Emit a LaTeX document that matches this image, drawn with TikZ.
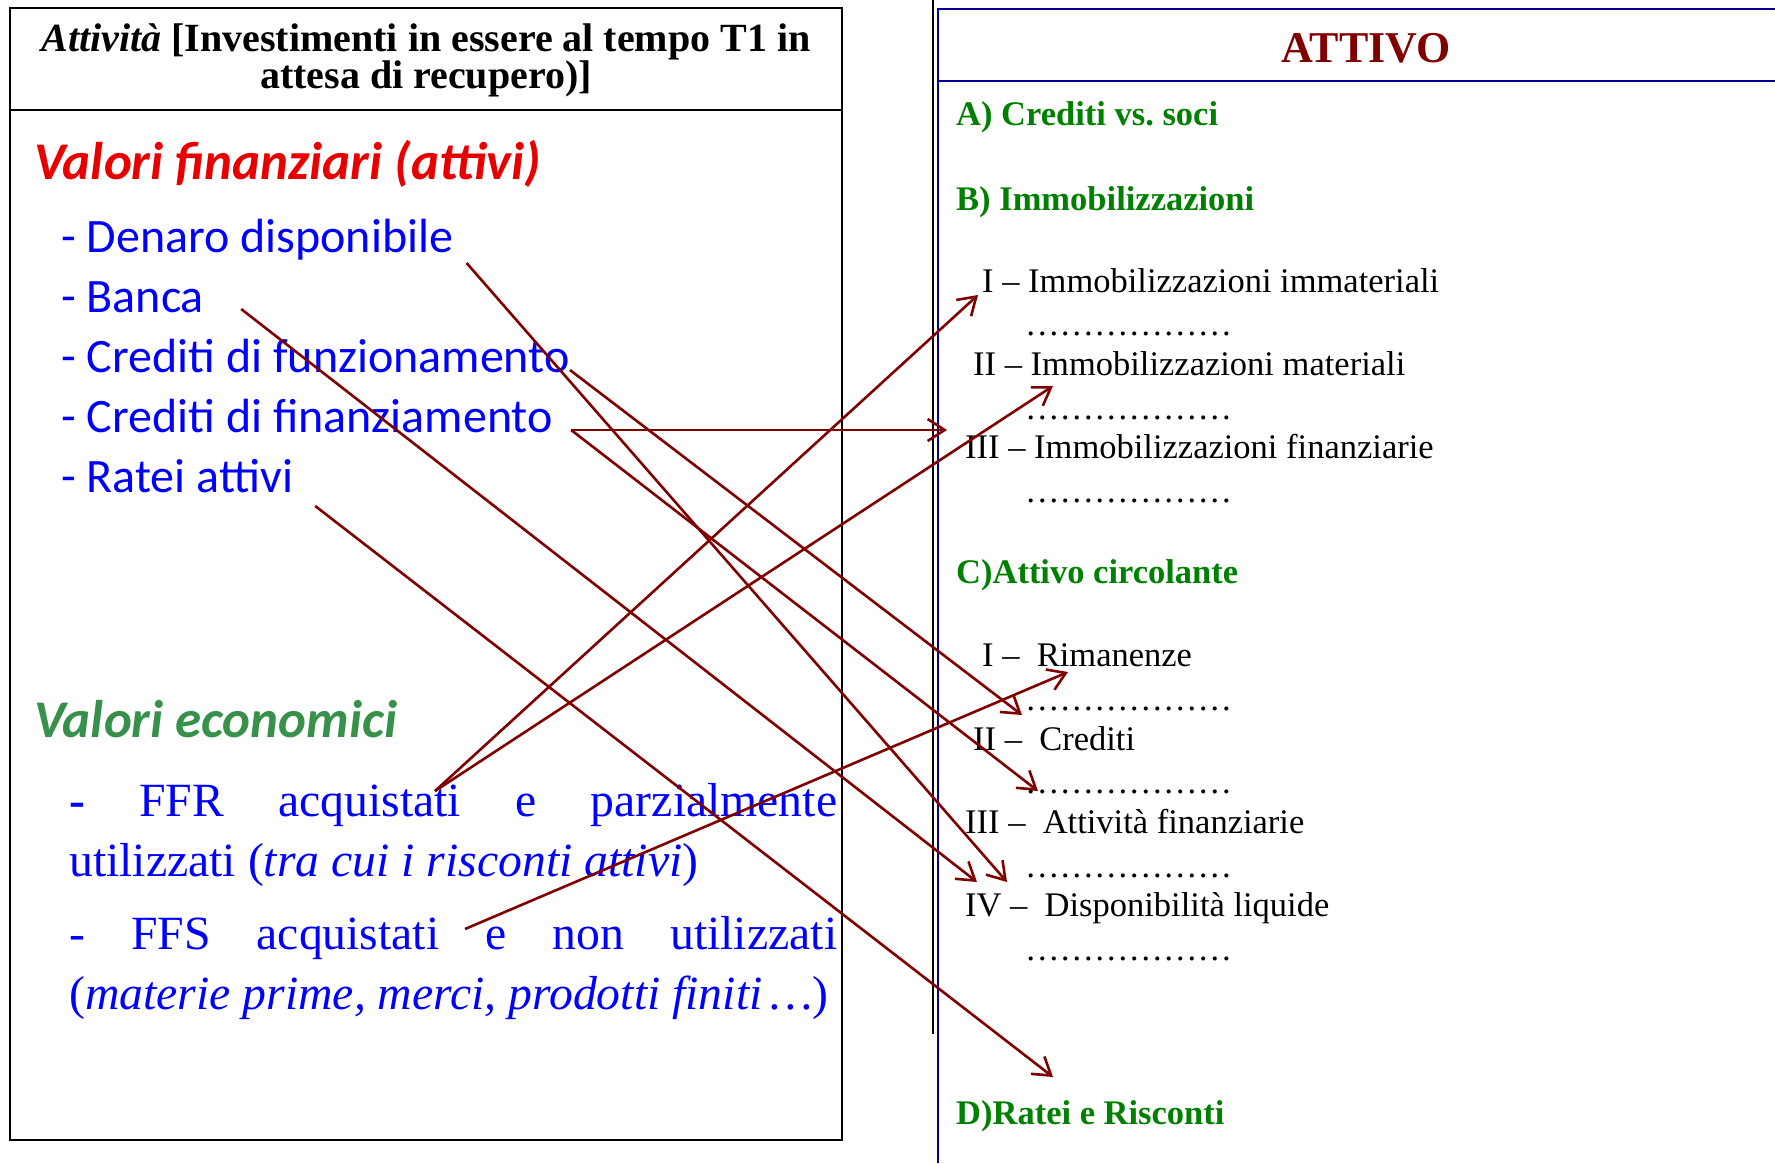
\documentclass[tikz,border=0pt]{standalone}
\usepackage{fontspec}
\setmainfont{Liberation Serif}
\newfontfamily\calibri{Carlito}
\usetikzlibrary{arrows.meta}
\frenchspacing

\definecolor{rossoscuro}{RGB}{128,0,0}
\definecolor{rossovivo}{RGB}{232,0,0}
\definecolor{verdebil}{RGB}{0,128,0}
\definecolor{verdeval}{RGB}{55,145,75}
\definecolor{blutesto}{RGB}{0,0,255}
\definecolor{blulinea}{RGB}{0,0,150}

\begin{document}
\begin{tikzpicture}[x=1pt, y=-1pt,
    voce/.style={font=\calibri\fontsize{48}{58}\selectfont, text=blutesto, inner sep=0pt, anchor=base west},
    titolo/.style={font=\calibri\bfseries\itshape\fontsize{53}{64}\selectfont, inner sep=0pt, anchor=base west},
    sezione/.style={font=\bfseries\fontsize{34.5}{41}\selectfont, text=verdebil, inner sep=0pt, anchor=base west},
    riga/.style={font=\fontsize{34.5}{41}\selectfont, inner sep=0pt, anchor=base west},
    frase/.style={font=\fontsize{47.7}{60}\selectfont, text=blutesto, inner sep=0pt, anchor=base west, text width=768pt, align=justify},
    freccia/.style={draw=rossoscuro, line width=2.6pt, -{Straight Barb[length=17pt, width=22pt]}}]
    \useasboundingbox (0,0) rectangle (1775,1163);

    % riquadro di sinistra
    \draw[line width=2.5pt] (10,8) rectangle (842,1140);
    \draw[line width=2.5pt] (10,110) -- (842,110);
    \node[font=\bfseries\fontsize{40}{37}\selectfont, text width=820pt, align=flush center, inner sep=0pt, anchor=base] (intest) at (426,51)
        {\textit{Attività} [Investimenti in essere al tempo T1 in\\ attesa di recupero)]};

    \node[titolo, text=rossovivo] (valfin) at (34,179) {Valori finanziari (attivi)};
    \foreach \t [count=\i] in {Denaro disponibile, Banca, Crediti di funzionamento, Crediti di finanziamento, Ratei attivi}
        \node[voce] (v\i) at (61,192+60*\i) {- \t};

    \node[titolo, text=verdeval] (valeco) at (34,737) {Valori economici};
    \node[frase] (ffr) at (69,816)
        {\makebox[\hsize][s]{\textbf{-} FFR acquistati e parzialmente}\\utilizzati (\textit{tra cui i risconti attivi})};
    \node[frase] (ffs) at (69,949)
        {\makebox[\hsize][s]{- FFS acquistati e non utilizzati}\\(\textit{materie prime, merci, prodotti finiti\,\textellipsis})};

    % stato patrimoniale
    \draw[line width=2.5pt] (933,0) -- (933,1034);
    \draw[blulinea, line width=2.5pt] (938,1163) -- (938,9) -- (1775,9);
    \draw[blulinea, line width=2.5pt] (938,81) -- (1775,81);
    \node[font=\bfseries\fontsize{44}{50}\selectfont, text=rossoscuro, inner sep=0pt, anchor=base] (attivo) at (1366,62) {ATTIVO};

    \node[sezione] (secA) at (956,125) {A) Crediti vs. soci};
    \node[sezione] (secB) at (956,210) {B) Immobilizzazioni};
    \node[sezione] (secC) at (956,583) {C)Attivo circolante};
    \node[sezione] (secD) at (956,1124) {D)Ratei e Risconti};

    \foreach \n/\x/\y/\t in {bI/982/292/{I – Immobilizzazioni immateriali},
                             bII/973/375/{II – Immobilizzazioni materiali},
                             bIII/965/458/{III – Immobilizzazioni finanziarie},
                             cI/982/666/{I –\ \ Rimanenze},
                             cII/973/750/{II –\ \ Crediti},
                             cIII/965/833/{III –\ \ Attività finanziarie},
                             cIV/965/916/{IV –\ \ Disponibilità liquide}}
        \node[riga] (\n) at (\x,\y) {\t};
    \foreach \y [count=\i] in {335,419,502,710,793,877,960}
        \node[riga] (punti\i) at (1025,\y)
            {\textellipsis\textellipsis\textellipsis\textellipsis\textellipsis\textellipsis};

    % collegamenti
    \coordinate (tDisp1) at (1007,882);
    \coordinate (tDisp2) at (977,882);
    \coordinate (tCre1) at (1022,715);
    \coordinate (tImmFin) at (947,430);
    \coordinate (tCre2) at (1038,791);
    \coordinate (tRat) at (1053,1077);
    \coordinate (tImm1) at (978,295);
    \coordinate (tImm2) at (1053,386);
    \coordinate (tRim) at (1068,672);
    \coordinate (sFfr) at (435,791);
    \coordinate (sFfs) at (465,929);

    \draw[freccia] ([shift={(13,11)}]v1.base east) -- (tDisp1);
    \draw[freccia] ([shift={(37,-3)}]v2.base east) -- (tDisp2);
    \draw[freccia] ([yshift=2pt]v3.base east) -- (tCre1);
    \draw[freccia] ([shift={(18,-2)}]v4.base east) -- (tImmFin);
    \draw[freccia] ([shift={(18,-2)}]v4.base east) -- (tCre2);
    \draw[freccia] ([shift={(22,14)}]v5.base east) -- (tRat);
    \draw[freccia] (sFfr) -- (tImm1);
    \draw[freccia] (sFfr) -- (tImm2);
    \draw[freccia] (sFfs) -- (tRim);
\end{tikzpicture}
\end{document}
